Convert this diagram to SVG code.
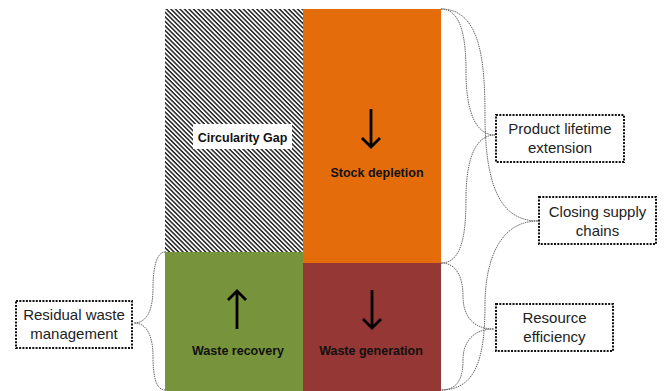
<svg xmlns="http://www.w3.org/2000/svg" width="666" height="391" viewBox="0 0 666 391">
<defs>
<pattern id="hatch" patternUnits="userSpaceOnUse" width="3.2" height="3.2" patternTransform="rotate(45)">
<rect width="3.2" height="3.2" fill="#fff"/>
<rect width="3.2" height="1.5" fill="#222"/>
</pattern>
</defs>
<style>
.lbl{font-family:"Liberation Sans",Arial,sans-serif;font-weight:bold;font-size:12.5px;fill:#111;text-anchor:middle}
.box{fill:#fff;stroke:#111;stroke-width:2;stroke-dasharray:2 1.3}
.btxt{font-family:"Liberation Sans",Arial,sans-serif;font-size:15px;fill:#222;text-anchor:middle}
.brace{fill:none;stroke:#666;stroke-width:1;stroke-dasharray:1.5 0.8}
.arrow{fill:none;stroke:#000;stroke-width:2.8}
</style>
<g id="circularity-gap">
<rect x="165" y="9" width="138" height="243" fill="url(#hatch)"/>
<rect x="193" y="124" width="99" height="25" fill="#fff"/>
<text class="lbl" x="242.5" y="142">Circularity Gap</text>
</g>
<g id="stock-depletion">
<rect x="303" y="9" width="138" height="254" fill="#E46C0A"/>
<path class="arrow" d="M371,109 V147 M362,138 L371,147 L380,138"/>
<text class="lbl" x="377" y="177">Stock depletion</text>
</g>
<g id="waste-recovery">
<rect x="165" y="252" width="138" height="139" fill="#77933C"/>
<path class="arrow" d="M237,329 V291 M228,300 L237,291 L246,300"/>
<text class="lbl" x="238" y="355">Waste recovery</text>
</g>
<g id="waste-generation">
<rect x="303" y="263" width="138" height="128" fill="#953735"/>
<path class="arrow" d="M372,290 V328 M363,319 L372,328 L381,319"/>
<text class="lbl" x="371" y="355">Waste generation</text>
</g>
<g id="connectors">
<path class="brace" d="M441,9 C462,9 466,40 466,72 C466,110 475,135 495,135 C475,135 466,160 466,199 C466,240 460,263 441,263"/>
<path class="brace" d="M441,9 C480,9 485,60 485,115 C485,185 500,221 538,221 C500,221 485,260 485,305 C485,360 475,390 441,390"/>
<path class="brace" d="M441,263 C458,263 463,280 463,296 C463,315 472,329 494,329 C472,329 463,343 463,360 C463,378 458,390 441,390"/>
<path class="brace" d="M165,252 C156,252 153,270 153,288 C153,308 148,323 134,323 C148,323 153,338 153,357 C153,376 156,390 165,390"/>
</g>
<g id="product-lifetime-extension">
<rect class="box" x="496" y="115" width="128" height="47"/>
<text class="btxt" x="560" y="134">Product lifetime</text>
<text class="btxt" x="560" y="153">extension</text>
</g>
<g id="closing-supply-chains">
<rect class="box" x="539" y="197" width="117" height="47"/>
<text class="btxt" x="597.5" y="217">Closing supply</text>
<text class="btxt" x="597.5" y="236">chains</text>
</g>
<g id="resource-efficiency">
<rect class="box" x="496" y="304" width="117" height="47"/>
<text class="btxt" x="554.5" y="323">Resource</text>
<text class="btxt" x="554.5" y="342">efficiency</text>
</g>
<g id="residual-waste-management">
<rect class="box" x="16" y="301" width="116" height="47"/>
<text class="btxt" x="74" y="320">Residual waste</text>
<text class="btxt" x="74" y="339">management</text>
</g>
</svg>
